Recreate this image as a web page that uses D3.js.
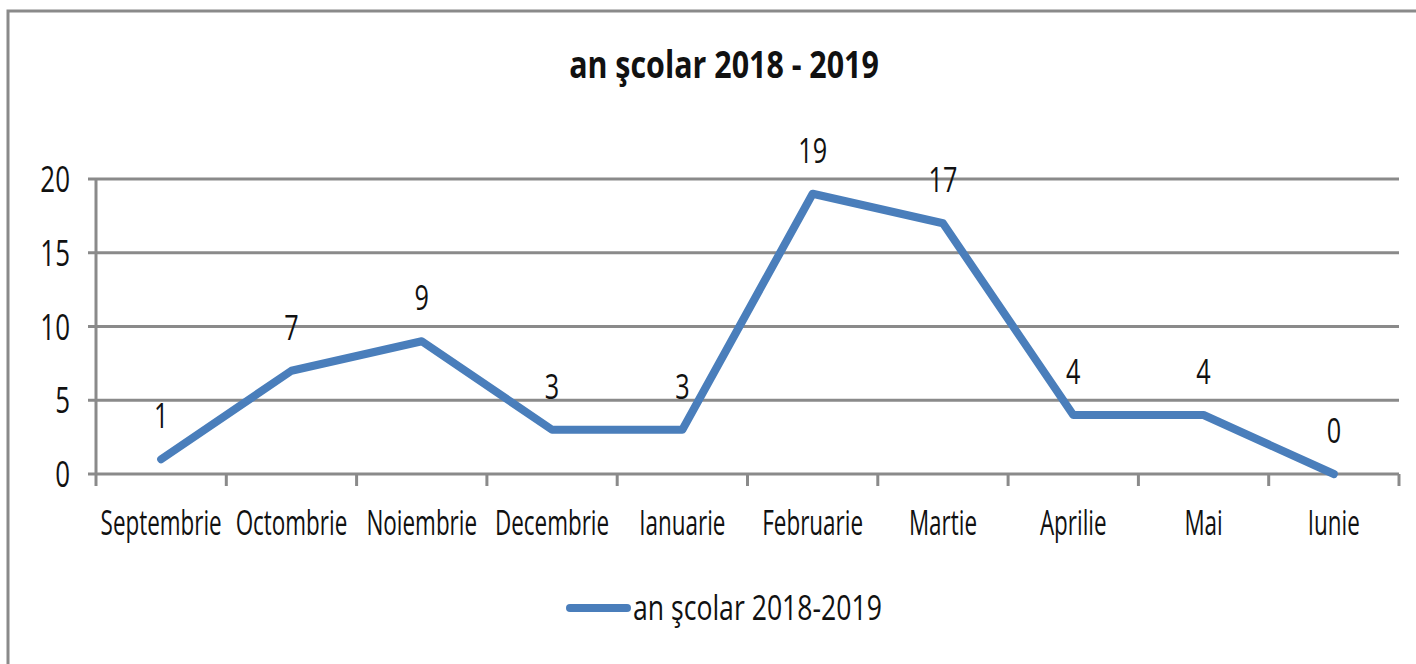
<!DOCTYPE html>
<html>
<head>
<meta charset="utf-8">
<script src="https://cdn.jsdelivr.net/npm/d3@7"></script>
<style>
  body { margin: 0; background: #fff; }
  text { font-family: "Open Sans", sans-serif; fill: #111; }
  .grid line { stroke: #8a8a8a; stroke-width: 3; }
</style>
</head>
<body>
<div id="chart"></div>
<script>
// Chart data
const months = ["Septembrie", "Octombrie", "Noiembrie", "Decembrie", "Ianuarie",
                "Februarie", "Martie", "Aprilie", "Mai", "Iunie"];
const values = [1, 7, 9, 3, 3, 19, 17, 4, 4, 0];
const yTicks = [0, 5, 10, 15, 20];
const seriesName = "an şcolar 2018-2019";
const chartTitle = "an şcolar 2018 - 2019";

const W = 1416, H = 664;
const margin = {top: 179, right: 17, bottom: 190, left: 96};
const width = W - margin.left - margin.right,
    height = H - margin.top - margin.bottom;

// narrow text: place with a transform, squeezed horizontally by k
function place(sel, x, y, k) {
    sel.attr("transform", (d, i) => {
        let px = typeof x === "function" ? x(d, i) : x;
        let py = typeof y === "function" ? y(d, i) : y;
        return `translate(${px}, ${py}) scale(${k}, 1)`;
    });
}

const root = d3.select("#chart").append("svg")
    .attr("width", W)
    .attr("height", H);

// outer frame
root.append("rect")
    .attr("x", 8).attr("y", 11)
    .attr("width", W + 20).attr("height", H + 20)
    .attr("fill", "none")
    .attr("stroke", "#8a8a8a")
    .attr("stroke-width", 3);

// title
root.append("text")
    .attr("text-anchor", "middle")
    .style("font-size", "38px")
    .style("font-weight", "bold")
    .text(chartTitle)
    .call(place, 724, 78, 0.8);

let svg = root.append("g")
    .attr("transform", `translate(${margin.left}, ${margin.top})`);

// Scales
let xScale = d3.scaleBand()
    .domain(months)
    .range([0, width]);

let yScale = d3.scaleLinear()
    .domain([0, 20])
    .range([height, 0]);

// Horizontal gridlines
svg.append("g")
    .attr("class", "grid")
    .selectAll("line")
    .data(yTicks)
    .enter()
    .append("line")
    .attr("x1", -8)
    .attr("x2", width)
    .attr("y1", d => yScale(d))
    .attr("y2", d => yScale(d));

// y axis line + labels
svg.append("line")
    .attr("x1", 0).attr("x2", 0)
    .attr("y1", 0).attr("y2", height)
    .attr("stroke", "#8a8a8a").attr("stroke-width", 3);

svg.append("g")
    .selectAll("text")
    .data(yTicks)
    .enter()
    .append("text")
    .attr("text-anchor", "end")
    .style("font-size", "36px")
    .text(d => d)
    .call(place, -26, d => yScale(d) + 13, 0.72);

// x axis ticks at band boundaries
let bounds = months.map(m => xScale(m)).concat([width]);
svg.append("g")
    .selectAll("line")
    .data(bounds)
    .enter()
    .append("line")
    .attr("x1", d => d).attr("x2", d => d)
    .attr("y1", height).attr("y2", height + 12)
    .attr("stroke", "#8a8a8a").attr("stroke-width", 3);

// x labels
svg.append("g")
    .selectAll("text")
    .data(months)
    .enter()
    .append("text")
    .attr("text-anchor", "middle")
    .style("font-size", "34px")
    .text(d => d)
    .call(place, d => xScale(d) + xScale.bandwidth() / 2, height + 61, 0.66);

// the line
let line = d3.line()
    .x((d, i) => xScale(months[i]) + xScale.bandwidth() / 2)
    .y(d => yScale(d));

svg.append("path")
    .datum(values)
    .attr("d", line)
    .attr("fill", "none")
    .attr("stroke", "#4a7ebb")
    .attr("stroke-width", 8)
    .attr("stroke-linejoin", "round")
    .attr("stroke-linecap", "round");

// data labels
svg.append("g")
    .selectAll("text")
    .data(values)
    .enter()
    .append("text")
    .attr("text-anchor", "middle")
    .style("font-size", "35px")
    .text(d => d)
    .call(place, (d, i) => xScale(months[i]) + xScale.bandwidth() / 2, d => yScale(d) - 31, 0.72);

// legend
let legend = root.append("g")
    .attr("transform", "translate(570, 608)");

legend.append("line")
    .attr("x1", 0).attr("x2", 57)
    .attr("y1", 0).attr("y2", 0)
    .attr("stroke", "#4a7ebb")
    .attr("stroke-width", 8)
    .attr("stroke-linecap", "round");

legend.append("text")
    .style("font-size", "35px")
    .text(seriesName)
    .call(place, 63, 12, 0.76);
</script>
</body>
</html>
